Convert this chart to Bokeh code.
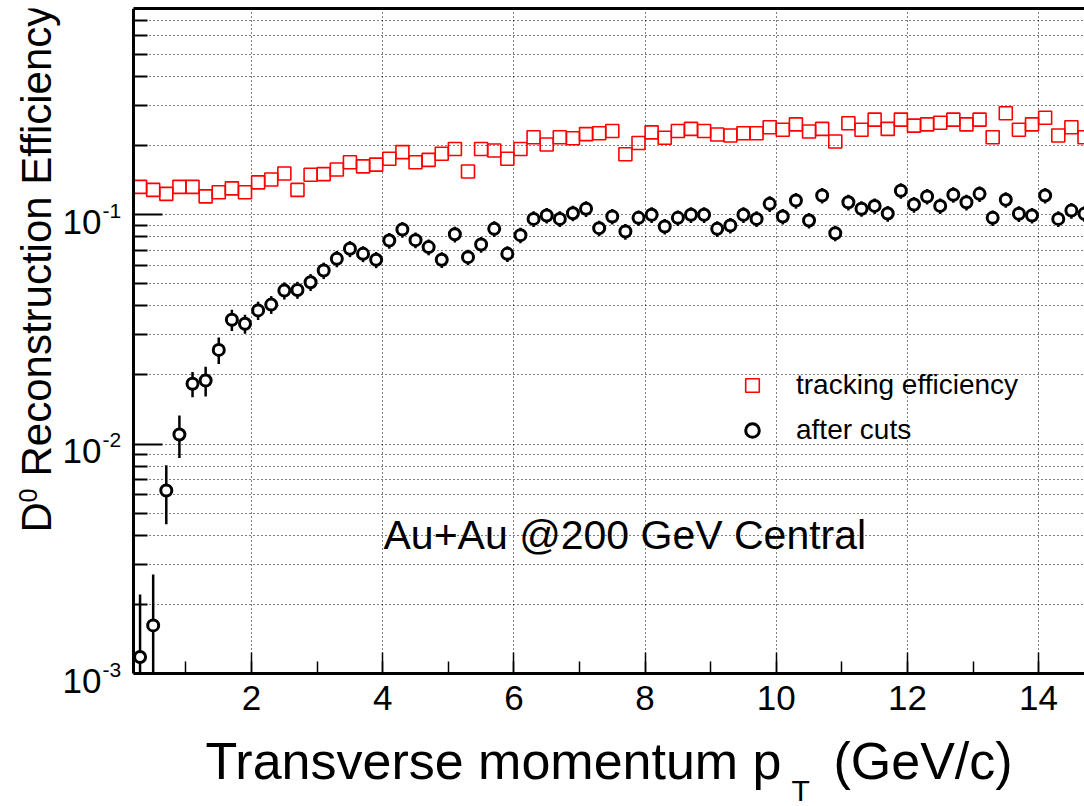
import math
from bokeh.plotting import figure
from bokeh.models import (ColumnDataSource, FixedTicker, SingleIntervalTicker, LinearAxis,
                          Label, Legend, LegendItem, CustomJSTickFormatter, Range1d,
                          BoxAnnotation)
from bokeh.embed import file_html
from bokeh.resources import INLINE

# ---------------- data ----------------
pt = [0.3, 0.5, 0.7, 0.9, 1.1, 1.3, 1.5, 1.7, 1.9, 2.1, 2.3, 2.5, 2.7, 2.9, 3.1, 3.3, 3.5, 3.7, 3.9,
      4.1, 4.3, 4.5, 4.7, 4.9, 5.1, 5.3, 5.5, 5.7, 5.9, 6.1, 6.3, 6.5, 6.7, 6.9, 7.1, 7.3, 7.5, 7.7,
      7.9, 8.1, 8.3, 8.5, 8.7, 8.9, 9.1, 9.3, 9.5, 9.7, 9.9, 10.1, 10.3, 10.5, 10.7, 10.9, 11.1,
      11.3, 11.5, 11.7, 11.9, 12.1, 12.3, 12.5, 12.7, 12.9, 13.1, 13.3, 13.5, 13.7, 13.9, 14.1,
      14.3, 14.5, 14.7]

tracking_eff = [0.132, 0.128, 0.123, 0.132, 0.132, 0.120, 0.125, 0.130, 0.125, 0.138, 0.142, 0.151,
                0.128, 0.149, 0.150, 0.157, 0.169, 0.162, 0.165, 0.175, 0.187, 0.169, 0.173, 0.184,
                0.193, 0.154, 0.193, 0.190, 0.175, 0.193, 0.217, 0.202, 0.217, 0.215, 0.224, 0.226,
                0.231, 0.183, 0.205, 0.228, 0.216, 0.231, 0.236, 0.231, 0.223, 0.221, 0.226, 0.226,
                0.240, 0.234, 0.247, 0.230, 0.236, 0.208, 0.250, 0.234, 0.259, 0.236, 0.259, 0.244,
                0.247, 0.251, 0.259, 0.247, 0.259, 0.217, 0.276, 0.234, 0.247, 0.264, 0.221, 0.240,
                0.217]

cuts_eff = [0.00118, 0.00162, 0.00627, 0.0110, 0.0183, 0.0189, 0.0257, 0.0348, 0.0334, 0.0382,
            0.0405, 0.0466, 0.0469, 0.0507, 0.0570, 0.0641, 0.0709, 0.0674, 0.0635, 0.0770,
            0.0860, 0.0773, 0.0721, 0.0635, 0.0820, 0.0652, 0.0740, 0.0866, 0.0674, 0.0813,
            0.0957, 0.0990, 0.0957, 0.1013, 0.1059, 0.0872, 0.0980, 0.0843, 0.0967, 0.0997,
            0.0887, 0.0967, 0.0997, 0.0997, 0.0866, 0.0896, 0.0997, 0.0957, 0.1113, 0.0980,
            0.1150, 0.0942, 0.1210, 0.0829, 0.1130, 0.1060, 0.1090, 0.1010, 0.1270, 0.1105,
            0.1198, 0.1090, 0.1220, 0.1130, 0.1230, 0.0967, 0.1160, 0.1007, 0.0990, 0.1210,
            0.0957, 0.1040, 0.1007]

cuts_err = [0.00103, 0.00108, 0.0018, 0.0023, 0.0023, 0.0028, 0.0034, 0.0037, 0.0032, 0.0035,
            0.0036, 0.0040, 0.0040, 0.0043, 0.0047, 0.0052, 0.0057, 0.0054, 0.0051, 0.0061,
            0.0068, 0.0061, 0.0057, 0.0050, 0.0064, 0.0051, 0.0058, 0.0068, 0.0053, 0.0063,
            0.0075, 0.0077, 0.0075, 0.0079, 0.0083, 0.0068, 0.0076, 0.0066, 0.0075, 0.0078,
            0.0069, 0.0075, 0.0078, 0.0078, 0.0068, 0.0070, 0.0078, 0.0075, 0.0087, 0.0076,
            0.0090, 0.0073, 0.0094, 0.0065, 0.0088, 0.0083, 0.0085, 0.0079, 0.0099, 0.0086,
            0.0093, 0.0085, 0.0095, 0.0088, 0.0096, 0.0075, 0.0090, 0.0079, 0.0077, 0.0094,
            0.0075, 0.0081, 0.0079]

y_major_ticks = [0.001, 0.01, 0.1]
y_major_exponents = ["-3", "-2", "-1"]
y_minor_ticks = [0.002, 0.003, 0.004, 0.005, 0.006, 0.007, 0.008, 0.009,
                 0.02, 0.03, 0.04, 0.05, 0.06, 0.07, 0.08, 0.09,
                 0.2, 0.3, 0.4, 0.5, 0.6, 0.7]

X_START, X_END = 0.2, 14.7      # visible pT window of the plot box
Y_START, Y_END = 0.001, 0.79    # visible efficiency window of the plot box
FONT = "Liberation Sans"

# canvas geometry: the plot box spans px [BOX_L, W] x [BOX_T, BOX_B]; the frame is the whole canvas
W, H = 1084, 806
BOX_L, BOX_T, BOX_B = 133, 8, 673

# frame ranges extended so that the plot box lands where it should (texts then stay inside the frame)
x_per_px = (X_END - X_START) / (W - BOX_L)
x_lo = X_START - BOX_L * x_per_px
dec_per_px = (math.log10(Y_END) - math.log10(Y_START)) / (BOX_B - BOX_T)
y_lo = 10 ** (math.log10(Y_START) - (H - BOX_B) * dec_per_px)


def y_canvas(v):
    """canvas pixel row of a value on the log y scale"""
    return BOX_T + (math.log10(Y_END) - math.log10(v)) / dec_per_px


# ---------------- figure ----------------
p = figure(width=W, height=H, x_range=Range1d(x_lo, X_END), y_range=Range1d(y_lo, Y_END),
           y_axis_type="log", output_backend="svg", toolbar_location=None,
           min_border_left=0, min_border_right=0, min_border_top=BOX_T, min_border_bottom=0)
p.outline_line_color = None
p.background_fill_color = "white"
p.border_fill_color = "white"

xticker = SingleIntervalTicker(interval=2, num_minor_ticks=2)
yticker = FixedTicker(ticks=y_major_ticks, minor_ticks=y_minor_ticks)

p.xaxis.ticker = xticker
p.yaxis.ticker = yticker
p.xgrid.ticker = xticker
p.ygrid.ticker = yticker
p.xgrid.bounds = (X_START, X_END)
p.ygrid.bounds = (Y_START, Y_END)
if "cross_bounds" in p.ygrid.properties():
    p.ygrid.cross_bounds = (X_START, X_END)
    p.xgrid.cross_bounds = (Y_START, Y_END)

for g in (p.xgrid, p.ygrid):
    g.grid_line_color = "black"
    g.grid_line_dash = "1 3"
    g.grid_line_width = 1
p.ygrid.minor_grid_line_color = "black"
p.ygrid.minor_grid_line_dash = "1 3"
p.ygrid.minor_grid_line_width = 1

# white covers outside the plot box so grid lines stop at the box edges
for box in (BoxAnnotation(left=x_lo - 5, right=X_START, fill_color="white", fill_alpha=1,
                          line_color=None, level="underlay"),
            BoxAnnotation(bottom=y_lo / 10, top=Y_START, fill_color="white", fill_alpha=1,
                          line_color=None, level="underlay")):
    p.add_layout(box)

xa = p.xaxis[0]
xa.fixed_location = Y_START
xa.bounds = (X_START, X_END)
xa.axis_line_width = 3
xa.major_tick_in = 21
xa.major_tick_out = 0
xa.minor_tick_in = 12
xa.minor_tick_out = 0
xa.major_tick_line_width = 1.5
xa.minor_tick_line_width = 1.5
xa.major_label_text_font = FONT
xa.major_label_text_font_size = "35px"
xa.major_label_text_color = "black"
xa.major_label_standoff = 12

ya = p.yaxis[0]
ya.fixed_location = X_START
ya.bounds = (Y_START, Y_END)
ya.axis_line_width = 3
ya.major_tick_in = 29
ya.major_tick_out = 0
ya.minor_tick_in = 14
ya.minor_tick_out = 0
ya.major_tick_line_width = 2
ya.minor_tick_line_width = 2
ya.major_label_standoff = 0
ya.formatter = CustomJSTickFormatter(code="return ''")

top = LinearAxis(ticker=FixedTicker(ticks=[]), bounds=(X_START, X_END), axis_line_width=3,
                 major_tick_in=0, major_tick_out=0, minor_tick_in=0, minor_tick_out=0,
                 major_label_text_font_size="0px", major_label_standoff=0)
p.add_layout(top, "above")

# ---------------- data glyphs ----------------
src = ColumnDataSource(dict(
    pt=pt, trk=tracking_eff, eff=cuts_eff,
    lo=[max(v - e, Y_START) for v, e in zip(cuts_eff, cuts_err)],
    hi=[v + e for v, e in zip(cuts_eff, cuts_err)],
))

p.segment(x0="pt", y0="lo", x1="pt", y1="hi", source=src, line_color="black", line_width=2.5)
r_cuts = p.scatter("pt", "eff", source=src, marker="circle", size=11, line_color="black",
                   line_width=3, fill_color="white")
r_trk = p.scatter("pt", "trk", source=src, marker="square", size=13, line_color="red",
                  line_width=1.6, fill_color=None)

legend = Legend(items=[LegendItem(label="tracking efficiency", renderers=[r_trk]),
                       LegendItem(label="after cuts", renderers=[r_cuts])],
                location=(735, H - 447), border_line_color=None, background_fill_alpha=0,
                glyph_width=34, glyph_height=34, label_standoff=27, spacing=11,
                padding=0, margin=0, label_text_font=FONT, label_text_font_size="28px",
                label_text_color="black")
p.add_layout(legend)

BASE_SHIFT = 0.37  # measured: rendered baseline sits this many em below the anchor


def text(x, y, s, size, angle=0.0, align="left"):
    """place text so that its baseline starts at canvas point (x, y)"""
    if angle:
        x = x - BASE_SHIFT * size
    else:
        y = y - BASE_SHIFT * size
    p.add_layout(Label(x=x, y=y, x_units="canvas", y_units="canvas", text=s, angle=angle,
                       text_align=align, text_baseline="alphabetic", text_font=FONT,
                       text_font_size=f"{size}px", text_color="black"))


# y tick labels 10^n
for v, e in zip(y_major_ticks, y_major_exponents):
    ty = y_canvas(v)
    text(101, ty + 20, "10", 35, align="right")
    text(102, ty + 4, e, 21)

# y-axis title (rotated)
text(52, 532, "D", 42, angle=math.pi / 2)
text(37, 502, "0", 25, angle=math.pi / 2)
text(52, 476, "Reconstruction Efficiency", 42, angle=math.pi / 2)

# x-axis title
text(205, 780, "Transverse momentum p", 52)
text(791, 801, "T", 30)
text(833, 780, "(GeV/c)", 52)

# annotation
text(383, 550, "Au+Au @200 GeV Central", 41)

open("out.html", "w").write(file_html(p, INLINE))
